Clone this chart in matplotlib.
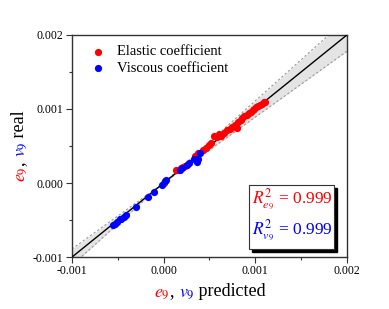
import numpy as np
import matplotlib
matplotlib.use('Agg')
import matplotlib.pyplot as plt
from matplotlib.patches import Rectangle

plt.rcParams['font.family'] = ['Liberation Serif', 'DejaVu Serif']
plt.rcParams['mathtext.fontset'] = 'stix'

# 弹性系数 (预测, 实际)
elastic_pred = [0.00000, 0.00014, 0.00017, 0.00019, 0.00021, 0.00023, 0.00034, 0.00038,
                0.00043, 0.00046, 0.00049, 0.00052, 0.00055, 0.00058, 0.00060, 0.00063,
                0.00066, 0.00069, 0.00072, 0.00075, 0.00080, 0.00078, 0.00081, 0.00084,
                0.00086, 0.00088, 0.00091, 0.00093, 0.00095, 0.00097, 0.00099, 0.00101,
                0.00103, 0.00105, 0.00107, 0.00109, 0.00111]
elastic_real = [0.00000, 0.00017, 0.00018, 0.00020, 0.00022, 0.00023, 0.00037, 0.00040,
                0.00045, 0.00047, 0.00051, 0.00054, 0.00063, 0.00062, 0.00066, 0.00064,
                0.00068, 0.00071, 0.00073, 0.00076, 0.00074, 0.00079, 0.00083, 0.00085,
                0.00088, 0.00090, 0.00092, 0.00094, 0.00096, 0.00098, 0.00100, 0.00102,
                0.00104, 0.00106, 0.00107, 0.00109, 0.00110]
# 粘性系数 (预测, 实际)
viscous_pred = [-0.00055, -0.00053, -0.00051, -0.00048, -0.00046, -0.00043, -0.00041,
                -0.00030, -0.00017, -0.00011, -0.00002, 0.00001, 0.00003, 0.00018,
                0.00020, 0.00025, 0.00028, 0.00036, 0.00037, 0.00040, 0.00033]
viscous_real = [-0.00057, -0.00055, -0.00052, -0.00049, -0.00048, -0.00046, -0.00043,
                -0.00032, -0.00019, -0.00012, -0.00002, 0.00003, 0.00004, 0.00018,
                0.00020, 0.00024, 0.00027, 0.00029, 0.00033, 0.00040, 0.00033]

ticks = [-0.001, 0.0, 0.001, 0.002]
tick_labels = ['-0.001', '0.000', '0.001', '0.002']
band = 0.11  # 灰色区间的相对宽度

fig = plt.figure(figsize=(3.89, 3.09), dpi=100)
ax = fig.add_axes([0.185, 0.168, 0.707, 0.719])

lim = np.array([-0.001, 0.002])
xx = np.linspace(lim[0], lim[1], 200)
ax.fill_between(xx, xx - band * np.abs(xx), xx + band * np.abs(xx), color='#e4e4e4', lw=0, zorder=1)
ax.plot(xx, xx - band * np.abs(xx), ls=(0, (2, 2)), color='#999999', lw=0.8, zorder=2)
ax.plot(xx, xx + band * np.abs(xx), ls=(0, (2, 2)), color='#999999', lw=0.8, zorder=2)
ax.plot(lim, lim, color='black', lw=1.0, zorder=3)

ax.scatter(elastic_pred, elastic_real, s=27, color='#ff0000', lw=0, zorder=4, label='Elastic coefficient')
ax.scatter(viscous_pred, viscous_real, s=27, color='#0000ff', lw=0, zorder=5, label='Viscous coefficient')

ax.set_xlim(lim)
ax.set_ylim(lim)
ax.set_xticks(ticks)
ax.set_xticklabels(tick_labels)
ax.set_yticks(ticks)
ax.set_yticklabels(tick_labels)
ax.set_xticks([-0.0005, 0.0005, 0.0015], minor=True)
ax.set_yticks([-0.0005, 0.0005, 0.0015], minor=True)
ax.tick_params(which='major', direction='out', length=4, width=0.8, labelsize=8.5, color='#333333', pad=2)
ax.tick_params(which='minor', direction='out', length=2.5, width=0.8, color='#333333')
for sp in ax.spines.values():
    sp.set_color('#333333')
    sp.set_linewidth(1.0)

ax.legend(loc='upper left', frameon=False, fontsize=10.5, handletextpad=0.7,
          borderaxespad=0.3, labelspacing=0.25, markerscale=1.0, handlelength=1.2,
          bbox_to_anchor=(0.025, 1.0))

# R2 文本框（带阴影）
ax.add_patch(Rectangle((0.655, 0.022), 0.309, 0.288, transform=ax.transAxes,
                       facecolor='black', edgecolor='black', zorder=6, clip_on=False))
ax.add_patch(Rectangle((0.644, 0.036), 0.309, 0.288, transform=ax.transAxes,
                       facecolor='white', edgecolor='#333333', lw=0.8, zorder=7, clip_on=False))
ax.text(0.655, 0.26, r'$R^2_{e_9}$ = 0.999', color='#ff0000', fontsize=12.5,
        transform=ax.transAxes, va='center', ha='left', zorder=8)
ax.text(0.655, 0.12, r'$R^2_{v_9}$ = 0.999', color='#0000ff', fontsize=12.5,
        transform=ax.transAxes, va='center', ha='left', zorder=8)


# 多颜色坐标轴标签
def rainbow(pieces, cx, cy, rotation=0, size=13):
    renderer = fig.canvas.get_renderer()
    W, H = fig.bbox.width, fig.bbox.height
    objs = []
    total = 0
    for s, c in pieces:
        t = fig.text(0, 0, s, color=c, fontsize=size, rotation=rotation,
                     rotation_mode='anchor', ha='left', va='baseline')
        bb = t.get_window_extent(renderer)
        w = bb.height if rotation else bb.width
        objs.append((t, w))
        total += w
    pos = -total / 2
    for t, w in objs:
        if rotation:
            t.set_position((cx / W, (cy + pos) / H))
        else:
            t.set_position(((cx + pos) / W, cy / H))
        pos += w


rainbow([(r'$e_9$', '#ff0000'), (', ', 'black'), (r'$v_9$', '#0000ff'), (' predicted', 'black')],
        210, 309 - 296)
rainbow([(r'$e_9$', '#ff0000'), (', ', 'black'), (r'$v_9$', '#0000ff'), (' real', 'black')],
        24, 309 - 146, rotation=90)

fig.savefig('out.png', dpi=100)
